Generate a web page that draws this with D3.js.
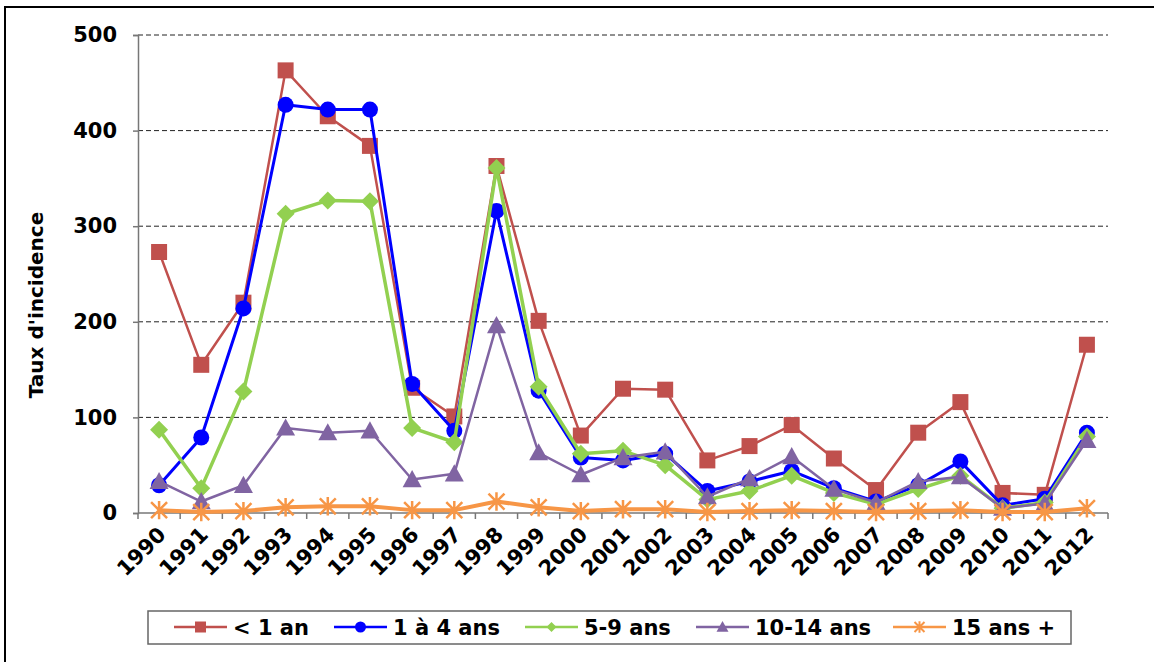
<!DOCTYPE html>
<html>
<head>
<meta charset="utf-8">
<script src="https://cdn.jsdelivr.net/npm/d3@7"></script>
<style>
  html, body { margin: 0; padding: 0; background: #fff; }
  svg { display: block; }
  text { font-family: "DejaVu Sans", Verdana, sans-serif; font-weight: bold; fill: #000; }
</style>
</head>
<body>
<svg id="chart" width="1154" height="662"></svg>
<script>
// Incidence rate by age group, 1990-2012
const years = ["1990","1991","1992","1993","1994","1995","1996","1997","1998","1999","2000",
               "2001","2002","2003","2004","2005","2006","2007","2008","2009","2010","2011","2012"];

const lessThan1 = [273,155,220,463,415,384,131,101,363,201,81,130,129,55,70,92,57,24,84,116,21,19,176];
const age1to4   = [29,79,214,427,422,422,135,86,316,128,58,55,62,23,33,44,26,12,29,54,8,15,84];
const age5to9   = [87,26,127,313,327,326,89,74,361,132,62,65,50,14,23,39,21,9,25,39,5,11,80];
const age10to14 = [33,12,29,89,84,86,35,41,196,63,40,58,64,17,36,59,25,11,33,38,5,10,76];
const age15plus = [3,1,2,6,7,7,3,3,12,6,2,4,4,1,2,3,2,1,2,3,1,1,5];

const yTicks = [0,100,200,300,400,500];
const seriesNames = ["< 1 an","1 à 4 ans","5-9 ans","10-14 ans","15 ans +"];

const series = [
  { name: seriesNames[0], values: lessThan1, color: "#C0504D", width: 2.5, marker: "square" },
  { name: seriesNames[1], values: age1to4,   color: "#0000FF", width: 3,   marker: "circle" },
  { name: seriesNames[2], values: age5to9,   color: "#92D050", width: 3.5, marker: "diamond" },
  { name: seriesNames[3], values: age10to14, color: "#8064A2", width: 2.5, marker: "triangle" },
  { name: seriesNames[4], values: age15plus, color: "#F79646", width: 4,   marker: "star" }
];

const svg = d3.select("#chart");
const W = 1154, H = 662;
const plot = { left: 138, right: 1108, top: 35, bottom: 513 };

// outer frame
svg.append("rect")
  .attr("x", 5).attr("y", 7)
  .attr("width", W + 10).attr("height", H + 10)
  .attr("fill", "none").attr("stroke", "#000").attr("stroke-width", 2);

const x = d3.scaleBand().domain(years).range([plot.left, plot.right]).paddingInner(0).paddingOuter(0);
const y = d3.scaleLinear().domain([0, 500]).range([plot.bottom, plot.top]);
const cx = d => x(d) + x.bandwidth() / 2;

// dashed horizontal gridlines
svg.append("g")
  .selectAll("line")
  .data(yTicks.filter(t => t > 0))
  .join("line")
  .attr("x1", plot.left).attr("x2", plot.right)
  .attr("y1", d => y(d)).attr("y2", d => y(d))
  .attr("stroke", "#222").attr("stroke-width", 1)
  .attr("stroke-dasharray", "5,3");

// y axis
const yAxis = svg.append("g")
  .attr("transform", `translate(${plot.left},0)`)
  .call(d3.axisLeft(y).tickValues(yTicks).tickSize(5).tickPadding(16).tickFormat(d3.format("d")));
yAxis.select(".domain").attr("stroke", "#777").attr("stroke-width", 1.5);
yAxis.selectAll(".tick line").attr("stroke", "#777").attr("stroke-width", 1.5);
yAxis.selectAll(".tick text")
  .style("font-size", "21px")
  .style("font-family", "'DejaVu Sans', Verdana, sans-serif")
  .style("font-weight", "bold")
  .attr("fill", "#000");

// x axis: ticks at category boundaries
const xAxisG = svg.append("g").attr("transform", `translate(0,${plot.bottom})`);
xAxisG.append("line")
  .attr("x1", plot.left).attr("x2", plot.right)
  .attr("stroke", "#777").attr("stroke-width", 1.5);
const boundaries = years.map(d => x(d)).concat([plot.right]);
xAxisG.selectAll("line.tk")
  .data(boundaries)
  .join("line")
  .attr("class", "tk")
  .attr("x1", d => d).attr("x2", d => d)
  .attr("y1", 0).attr("y2", 6)
  .attr("stroke", "#777").attr("stroke-width", 1.5);
xAxisG.selectAll("text")
  .data(years)
  .join("text")
  .attr("transform", d => `translate(${cx(d) + 8},${23}) rotate(-45)`)
  .attr("text-anchor", "end")
  .style("font-size", "21px")
  .text(d => d);

// y axis title
svg.append("text")
  .attr("transform", `translate(43,305) rotate(-90)`)
  .attr("text-anchor", "middle")
  .style("font-size", "20px")
  .text("Taux d'incidence");

// marker shapes
function markerPath(type, s) {
  switch (type) {
    case "square":   return d3.symbol(d3.symbolSquare, s * s)();
    case "circle":   return d3.symbol(d3.symbolCircle, Math.PI * (s / 2) * (s / 2))();
    case "diamond": {
      const h = s / 2;
      return `M0,${-h}L${h},0L0,${h}L${-h},0Z`;
    }
    case "triangle": {
      const h = s / 2;
      return `M0,${-h}L${h},${h * 0.8}L${-h},${h * 0.8}Z`;
    }
    default: return null;
  }
}

function drawMarker(g, type, color, s, sw) {
  if (type === "star") {
    const h = s / 2;
    g.append("path")
      .attr("d", `M${-h},${-h}L${h},${h}M${-h},${h}L${h},${-h}M0,${-h * 1.15}L0,${h * 1.15}`)
      .attr("stroke", color).attr("stroke-width", sw || 2.5).attr("fill", "none");
  } else {
    g.append("path").attr("d", markerPath(type, s)).attr("fill", color);
  }
}

const markerSize = { square: 16, circle: 16, diamond: 18, triangle: 19, star: 16 };

const line = d3.line().x((d, i) => cx(years[i])).y(d => y(d));

series.forEach(s => {
  const g = svg.append("g");
  g.append("path")
    .datum(s.values)
    .attr("d", line)
    .attr("fill", "none")
    .attr("stroke", s.color)
    .attr("stroke-width", s.width)
    .attr("stroke-linejoin", "round");
  s.values.forEach((v, i) => {
    const m = g.append("g").attr("transform", `translate(${cx(years[i])},${y(v)})`);
    drawMarker(m, s.marker, s.color, markerSize[s.marker]);
  });
});

// legend
const legend = svg.append("g");
legend.append("rect")
  .attr("x", 148).attr("y", 611).attr("width", 923).attr("height", 33)
  .attr("fill", "#fff").attr("stroke", "#666").attr("stroke-width", 1.5);

const legendX = [174, 334, 525, 696, 893];
const legendMarker = { square: 11, circle: 11, diamond: 10, triangle: 12, star: 10 };
series.forEach((s, i) => {
  const g = legend.append("g").attr("transform", `translate(${legendX[i]},627)`);
  g.append("line").attr("x1", 0).attr("x2", 53)
    .attr("stroke", s.color).attr("stroke-width", 2.5);
  const m = g.append("g").attr("transform", "translate(26.5,0)");
  drawMarker(m, s.marker, s.color, legendMarker[s.marker], 2);
  g.append("text").attr("x", 59).attr("y", 8)
    .style("font-size", "21px")
    .text(s.name);
});
</script>
</body>
</html>
